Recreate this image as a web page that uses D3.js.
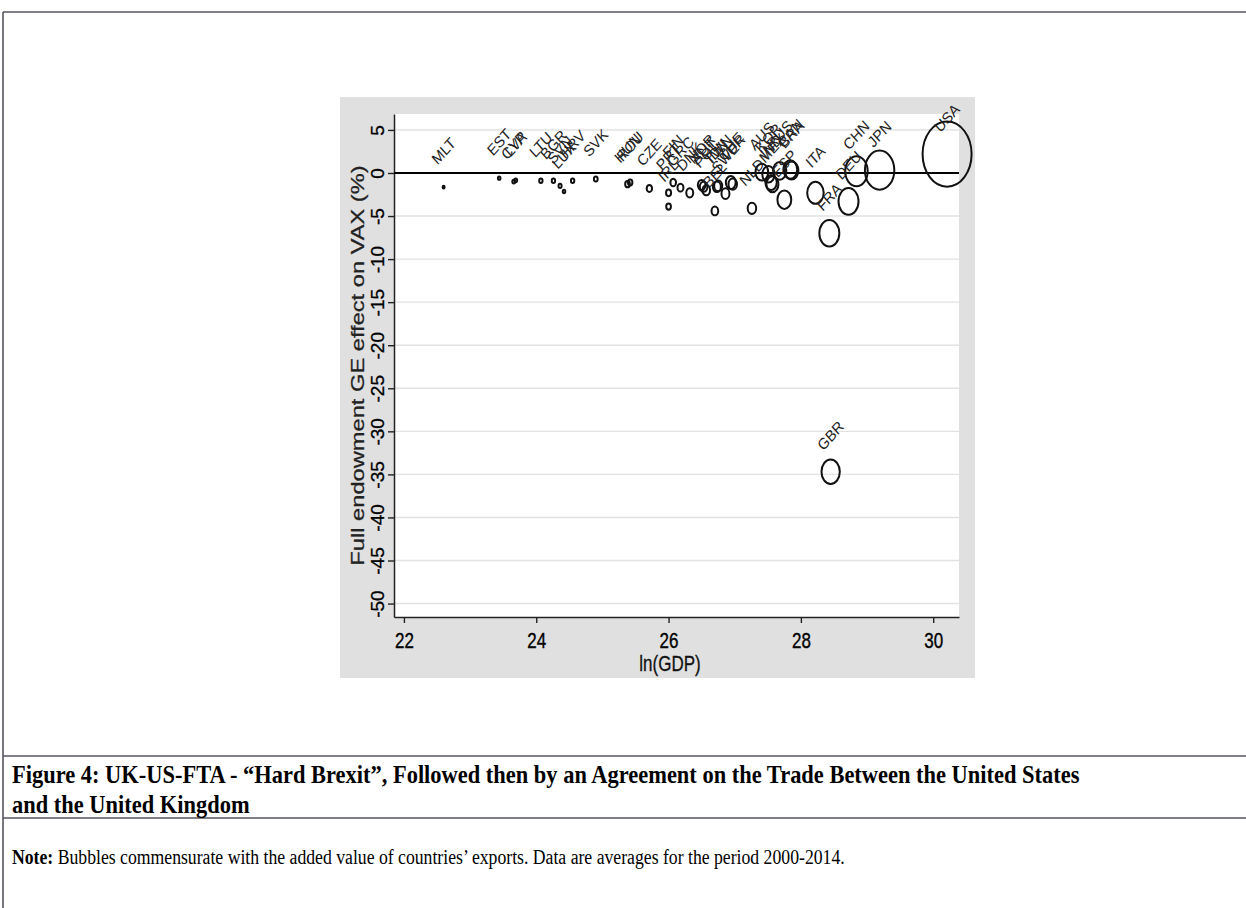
<!DOCTYPE html>
<html><head><meta charset="utf-8">
<script src="https://cdn.jsdelivr.net/npm/d3@7"></script>
<style>body{margin:0;background:#fff}svg{display:block}</style>
</head><body>
<svg id="c" width="1246" height="908"></svg>
<script>
// ---- data ----
const countries = ["MLT","EST","CYP","LVA","LTU","BGR","SVN","LUX","HRV","SVK","HUN","ROU","CZE",
  "IRL","PRT","FIN","GRC","DNK","NOR","AUT","POL","BEL","IDN","TWN","SWE","CHE","TUR",
  "NLD","AUS","KOR","MEX","IND","RUS","ESP","CAN","BRA","ITA","FRA","GBR","DEU","CHN","JPN","USA"];
const lnGDP = [22.60,23.44,23.66,23.69,24.07,24.26,24.36,24.42,24.55,24.90,25.38,25.42,25.71,
  26.00,26.00,26.07,26.18,26.32,26.50,26.53,26.57,26.70,26.73,26.75,26.86,26.94,26.97,
  27.26,27.41,27.51,27.57,27.55,27.68,27.75,27.84,27.86,28.22,28.43,28.45,28.72,28.84,29.19,30.21];
const effectVAX = [-1.65,-0.6,-1.0,-0.85,-0.9,-0.9,-1.5,-2.15,-0.9,-0.7,-1.3,-1.1,-1.8,
  -3.9,-2.3,-1.1,-1.7,-2.3,-1.4,-1.6,-2.0,-4.4,-1.6,-1.5,-2.4,-1.1,-1.3,
  -4.1,0.1,-0.15,-1.3,-1.1,0.25,-3.1,0.4,0.3,-2.3,-7.0,-34.7,-3.3,0.2,0.33,2.2];
const exportsVA = [2.5,4,5,5,7,7,6,4,7,9,14,12,18,
  14,16,20,22,30,36,36,36,28,40,40,40,60,45,
  45,100,95,90,80,110,120,120,115,170,250,210,250,315,540,1500];
const xTicks = [22,24,26,28,30];
const yTicks = [5,0,-5,-10,-15,-20,-25,-30,-35,-40,-45,-50];
const xTitle = "ln(GDP)";
const yTitle = "Full endowment GE effect on VAX (%)";
const caption1 = "Figure 4: UK-US-FTA - \u201cHard Brexit\u201d, Followed then by an Agreement on the Trade Between the United States";
const caption2 = "and the United Kingdom";
const noteBold = "Note:";
const noteText = " Bubbles commensurate with the added value of countries\u2019 exports. Data are averages for the period 2000-2014.";

// ---- layout ----
const svg = d3.select("#c");
const PL = 394, PR = 959, PT = 114, PB = 617;
const x = d3.scaleLinear().domain([21.85, 30.39]).range([PL, PR]);
const y = d3.scaleLinear().domain([-51.56, 6.85]).range([PB, PT]);
const r = d3.scaleSqrt().domain([0, 1500]).range([0, 24.5]);
const SANS = "'Liberation Sans', Arial, Helvetica, sans-serif";
const SERIF = "'Liberation Serif', 'Times New Roman', serif";
const fmt = d => String(d);

// frame lines
const frame = svg.append("g").attr("stroke", "#55555f").attr("stroke-width", 1.6);
frame.append("line").attr("x1", 3).attr("x2", 1246).attr("y1", 12).attr("y2", 12);
frame.append("line").attr("x1", 3).attr("x2", 3).attr("y1", 12).attr("y2", 908);
frame.append("line").attr("x1", 3).attr("x2", 1246).attr("y1", 756).attr("y2", 756);
frame.append("line").attr("x1", 3).attr("x2", 1246).attr("y1", 818).attr("y2", 818);

// gray graph region and white plot region
svg.append("rect").attr("x", 340).attr("y", 97).attr("width", 635).attr("height", 581).attr("fill", "#e0e0e0");
svg.append("rect").attr("x", PL).attr("y", PT).attr("width", PR - PL).attr("height", PB - PT).attr("fill", "#fff");

// gridlines
svg.append("g").selectAll("line").data(yTicks).join("line")
  .attr("x1", PL).attr("x2", PR).attr("y1", d => y(d)).attr("y2", d => y(d))
  .attr("stroke", "#e2e2e2").attr("stroke-width", 1.4);

// axes
const gy = svg.append("g").attr("transform", `translate(${PL},0)`)
  .call(d3.axisLeft(y).tickValues(yTicks).tickSize(6).tickSizeOuter(0).tickFormat(fmt));
gy.select(".domain").attr("stroke", "#222").attr("stroke-width", 1.5);
gy.selectAll(".tick line").attr("stroke", "#222").attr("stroke-width", 1.4);
gy.selectAll(".tick text").attr("x", null).attr("dy", null)
  .attr("transform", "translate(-10.5,0) rotate(-90)").attr("text-anchor", "middle")
  .attr("font-family", SANS).attr("font-size", 19).attr("fill", "#000")
  .attr("stroke", "#000").attr("stroke-width", 0.3);

const gx = svg.append("g").attr("transform", `translate(0,${PB})`)
  .call(d3.axisBottom(x).tickValues(xTicks).tickSize(6).tickSizeOuter(0).tickFormat(fmt));
gx.select(".domain").attr("stroke", "#222").attr("stroke-width", 1.5);
gx.selectAll(".tick line").attr("stroke", "#222").attr("stroke-width", 1.4);
gx.selectAll(".tick text").attr("y", null).attr("dy", null)
  .attr("transform", "translate(0,31) scale(1,1.3)").attr("text-anchor", "middle")
  .attr("font-family", SANS).attr("font-size", 17).attr("fill", "#000")
  .attr("stroke", "#000").attr("stroke-width", 0.3);

// axis titles
svg.append("text").text(xTitle)
  .attr("transform", `translate(670,671) scale(1,1.33)`)
  .attr("text-anchor", "middle").attr("font-family", SANS).attr("font-size", 17).attr("fill", "#111")
  .attr("stroke", "#111").attr("stroke-width", 0.25);
svg.append("text").text(yTitle)
  .attr("transform", `translate(364,${(PT + PB) / 2}) scale(1,1.28) rotate(-90)`)
  .attr("text-anchor", "middle").attr("font-family", SANS).attr("font-size", 18.5).attr("fill", "#222")
  .attr("stroke", "#222").attr("stroke-width", 0.25);

// zero line
svg.append("line").attr("x1", PL).attr("x2", PR).attr("y1", y(0)).attr("y2", y(0))
  .attr("stroke", "#000").attr("stroke-width", 2.2);

// bubbles
const data = countries.map((c, i) => ({c, gx: lnGDP[i], ev: effectVAX[i], w: exportsVA[i]}));
svg.append("g").selectAll("ellipse").data(data).join("ellipse")
  .attr("cx", d => x(d.gx)).attr("cy", d => y(d.ev))
  .attr("rx", d => Math.max(r(d.w), 0.8)).attr("ry", d => Math.max(r(d.w) * 1.33, 1))
  .attr("fill", "none").attr("stroke", "#111").attr("stroke-width", 2);

// labels
svg.append("g").selectAll("text").data(data).join("text")
  .text(d => d.c)
  .attr("transform", d => `translate(${x(d.gx)},${y(d.ev) - 36}) scale(1,1.12) rotate(-45)`)
  .attr("text-anchor", "middle").attr("dominant-baseline", "central")
  .attr("font-family", SANS).attr("font-size", 14).attr("fill", "#222");

// caption
const c1 = svg.append("text").text(caption1)
  .attr("font-family", SERIF).attr("font-weight", "bold").attr("font-size", 19).attr("fill", "#000");
const sx1 = 1068 / c1.node().getComputedTextLength();
c1.attr("transform", `translate(12,783) scale(${sx1},1.3)`);
svg.append("text").text(caption2)
  .attr("font-family", SERIF).attr("font-weight", "bold").attr("font-size", 19).attr("fill", "#000")
  .attr("transform", `translate(12,813) scale(${sx1},1.3)`);
const n = svg.append("text")
  .attr("font-family", SERIF).attr("font-size", 16).attr("fill", "#000");
n.append("tspan").attr("font-weight", "bold").text(noteBold);
n.append("tspan").text(noteText);
const sxn = 833 / n.node().getComputedTextLength();
n.attr("transform", `translate(12,864) scale(${sxn},1.25)`);
</script>
</body></html>
